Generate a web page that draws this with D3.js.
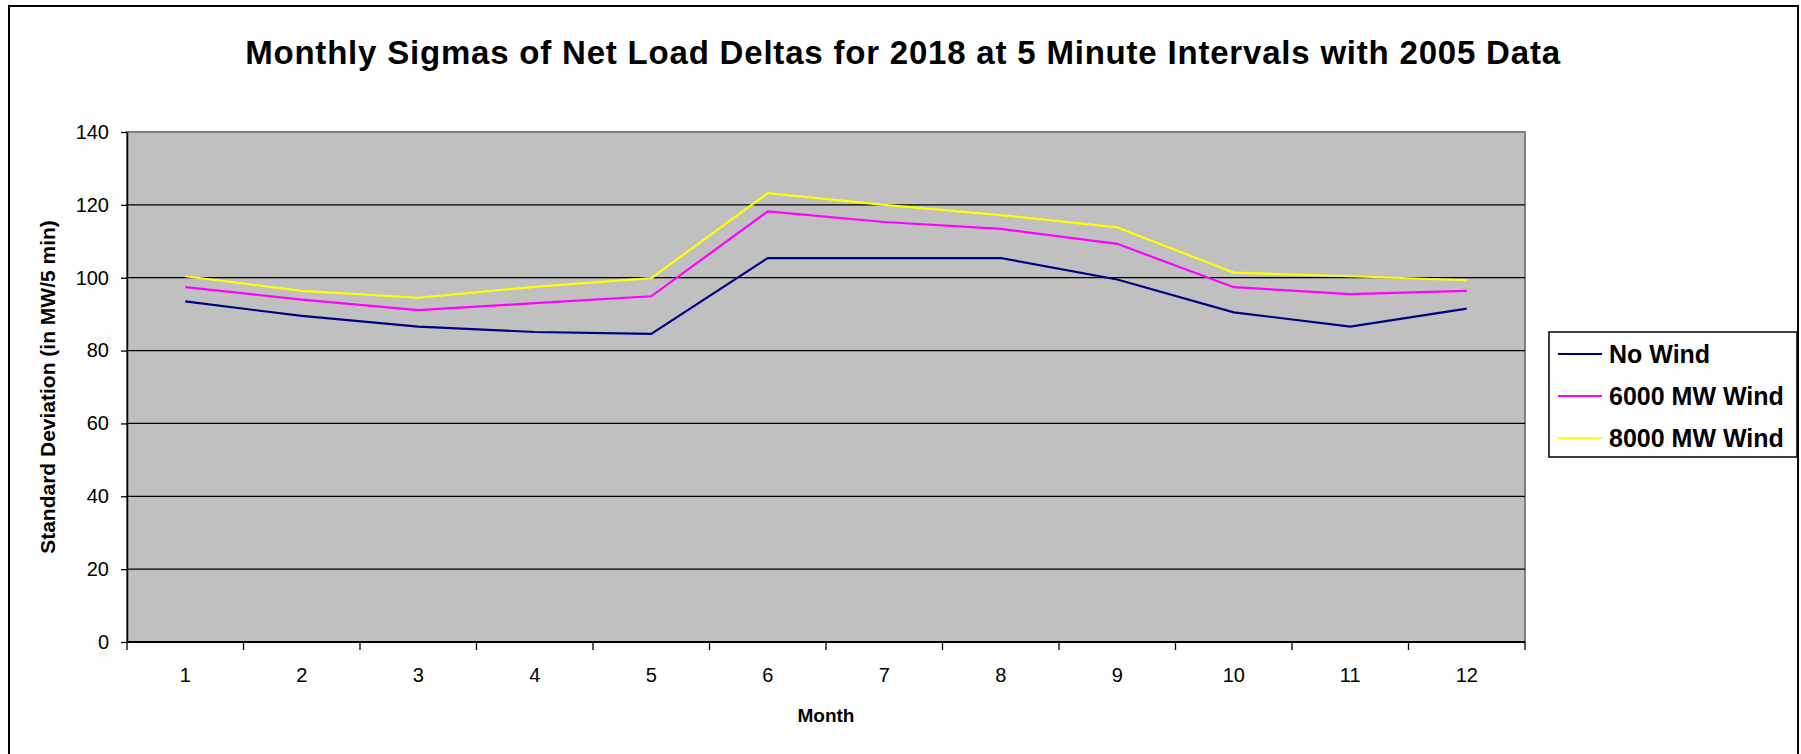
<!DOCTYPE html>
<html>
<head>
<meta charset="utf-8">
<script src="https://cdn.jsdelivr.net/npm/d3@7"></script>
<style>
  html, body { margin: 0; padding: 0; background: #fff; }
  svg { display: block; font-family: "Liberation Sans", Arial, sans-serif; }
</style>
</head>
<body>
<svg id="chart" width="1801" height="754"></svg>
<script>
// Monthly standard deviation of 5-minute net load deltas (MW/5 min)
const months = [1, 2, 3, 4, 5, 6, 7, 8, 9, 10, 11, 12];
const noWind   = [93.5, 89.5, 86.6, 85.1, 84.6, 105.4, 105.4, 105.4, 99.5, 90.5, 86.6, 91.5];
const wind6000 = [97.4, 94.0, 91.1, 93.0, 94.9, 118.2, 115.3, 113.4, 109.3, 97.4, 95.5, 96.4];
const wind8000 = [100.4, 96.4, 94.5, 97.5, 99.9, 123.2, 120.0, 117.2, 113.8, 101.4, 100.4, 99.3];
const seriesNames = ["No Wind", "6000 MW Wind", "8000 MW Wind"];
const seriesColors = ["#000080", "#ff00ff", "#ffff00"];
const yTicks = [0, 20, 40, 60, 80, 100, 120, 140];

const titleText = "Monthly Sigmas of Net Load Deltas for 2018 at 5 Minute Intervals with 2005 Data";
const yTitle = "Standard Deviation (in MW/5 min)";
const xTitle = "Month";

const svg = d3.select("#chart");
const plot = { left: 127, right: 1525, top: 132, bottom: 642 };

// outer chart frame
svg.append("rect")
  .attr("x", 9).attr("y", 6).attr("width", 1789).attr("height", 760)
  .attr("fill", "#fff").attr("stroke", "#000").attr("stroke-width", 2);

const x = d3.scaleBand().domain(months).range([plot.left, plot.right]).paddingInner(0).paddingOuter(0);
const y = d3.scaleLinear().domain([0, 140]).range([plot.bottom, plot.top]);

// plot area background
svg.append("rect")
  .attr("x", plot.left).attr("y", plot.top)
  .attr("width", plot.right - plot.left).attr("height", plot.bottom - plot.top)
  .attr("fill", "#c0c0c0").attr("stroke", "#808080").attr("stroke-width", 2);

// horizontal gridlines
svg.append("g")
  .selectAll("line")
  .data(yTicks.filter(t => t > 0 && t < 140))
  .join("line")
  .attr("x1", plot.left).attr("x2", plot.right)
  .attr("y1", d => y(d)).attr("y2", d => y(d))
  .attr("stroke", "#000").attr("stroke-width", 1.3);

// y axis
const yAxis = svg.append("g")
  .attr("transform", `translate(${plot.left},0)`)
  .call(d3.axisLeft(y).tickValues(yTicks).tickSize(6).tickPadding(12).tickSizeOuter(0));
yAxis.select(".domain").attr("stroke", "#000").attr("stroke-width", 1.5);
yAxis.selectAll(".tick line").attr("stroke", "#000").attr("stroke-width", 1.3);
yAxis.selectAll("text")
  .attr("font-size", 20).attr("fill", "#000")
  .attr("font-family", "'Liberation Sans', Arial, sans-serif");

// x axis: ticks sit on category boundaries, labels at category centres
const xAxisG = svg.append("g").attr("transform", `translate(0,${plot.bottom})`);
xAxisG.append("line")
  .attr("x1", plot.left).attr("x2", plot.right)
  .attr("y1", 0).attr("y2", 0)
  .attr("stroke", "#000").attr("stroke-width", 2);
const bounds = months.map(m => x(m)).concat([x(months[months.length - 1]) + x.bandwidth()]);
xAxisG.selectAll("line.tk")
  .data(bounds)
  .join("line")
  .attr("class", "tk")
  .attr("x1", d => d).attr("x2", d => d)
  .attr("y1", 0).attr("y2", 8)
  .attr("stroke", "#000").attr("stroke-width", 1.3);
xAxisG.selectAll("text")
  .data(months)
  .join("text")
  .attr("x", d => x(d) + x.bandwidth() / 2)
  .attr("y", 40)
  .attr("text-anchor", "middle")
  .attr("font-size", 20)
  .text(d => d);

// series lines
const series = [noWind, wind6000, wind8000];
const line = d3.line()
  .x((d, i) => x(months[i]) + x.bandwidth() / 2)
  .y(d => y(d));
svg.append("g")
  .selectAll("path")
  .data(series)
  .join("path")
  .attr("d", d => line(d))
  .attr("fill", "none")
  .attr("stroke", (d, i) => seriesColors[i])
  .attr("stroke-width", 2.2)
  .attr("stroke-linejoin", "miter");

// title
svg.append("text")
  .attr("x", 903).attr("y", 64)
  .attr("text-anchor", "middle")
  .attr("font-size", 33).attr("font-weight", "bold")
  .attr("letter-spacing", 0.8)
  .text(titleText);

// axis titles
svg.append("text")
  .attr("transform", `translate(55,${(plot.top + plot.bottom) / 2}) rotate(-90)`)
  .attr("text-anchor", "middle")
  .attr("font-size", 21).attr("font-weight", "bold")
  .text(yTitle);

svg.append("text")
  .attr("x", (plot.left + plot.right) / 2).attr("y", 722)
  .attr("text-anchor", "middle")
  .attr("font-size", 19).attr("font-weight", "bold")
  .text(xTitle);

// legend
const legend = svg.append("g");
legend.append("rect")
  .attr("x", 1549).attr("y", 332).attr("width", 248).attr("height", 125)
  .attr("fill", "#fff").attr("stroke", "#000").attr("stroke-width", 1.5);
const rows = legend.selectAll("g.row")
  .data(seriesNames)
  .join("g")
  .attr("class", "row")
  .attr("transform", (d, i) => `translate(0,${354 + i * 42})`);
rows.append("line")
  .attr("x1", 1558).attr("x2", 1602)
  .attr("y1", 0).attr("y2", 0)
  .attr("stroke", (d, i) => seriesColors[i])
  .attr("stroke-width", 2);
rows.append("text")
  .attr("x", 1609).attr("y", 9)
  .attr("font-size", 25).attr("font-weight", "bold")
  .text(d => d);
</script>
</body>
</html>
